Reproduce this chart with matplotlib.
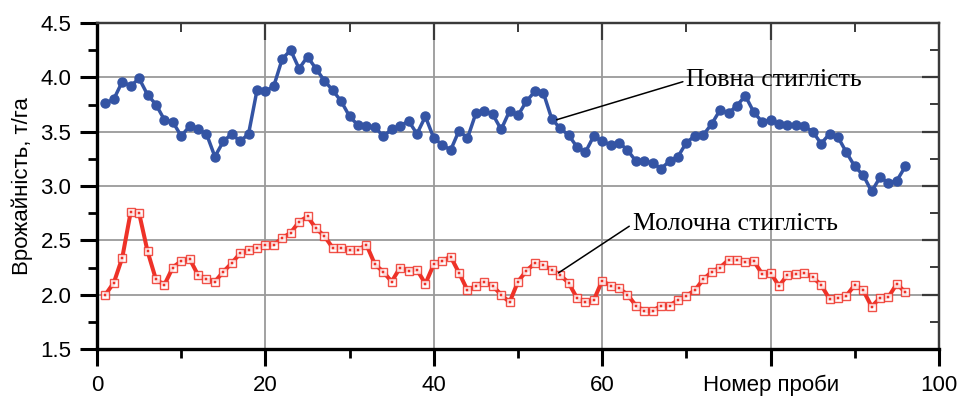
import matplotlib
matplotlib.use("Agg")
import matplotlib.pyplot as plt
import numpy as np

sample = list(range(1, 97))
full_ripeness = [3.76, 3.80, 3.96, 3.92, 3.99, 3.84, 3.75, 3.61, 3.59, 3.46,
                 3.55, 3.52, 3.48, 3.27, 3.41, 3.48, 3.41, 3.48, 3.88, 3.87,
                 3.92, 4.17, 4.25, 4.08, 4.19, 4.08, 3.97, 3.88, 3.78, 3.64,
                 3.56, 3.55, 3.54, 3.46, 3.52, 3.55, 3.60, 3.48, 3.64, 3.44,
                 3.38, 3.33, 3.51, 3.44, 3.67, 3.69, 3.66, 3.52, 3.69, 3.65,
                 3.78, 3.87, 3.86, 3.62, 3.53, 3.47, 3.36, 3.31, 3.46, 3.41,
                 3.38, 3.40, 3.33, 3.23, 3.23, 3.21, 3.16, 3.23, 3.27, 3.40,
                 3.46, 3.47, 3.57, 3.70, 3.67, 3.74, 3.83, 3.68, 3.59, 3.61,
                 3.57, 3.56, 3.56, 3.55, 3.50, 3.39, 3.48, 3.45, 3.31, 3.18,
                 3.10, 2.95, 3.08, 3.03, 3.05, 3.18]
milk_ripeness = [2.00, 2.11, 2.34, 2.76, 2.75, 2.40, 2.14, 2.09, 2.25, 2.31,
                 2.33, 2.18, 2.14, 2.12, 2.21, 2.29, 2.38, 2.41, 2.43, 2.46,
                 2.46, 2.52, 2.57, 2.67, 2.72, 2.61, 2.54, 2.43, 2.43, 2.41,
                 2.41, 2.46, 2.28, 2.21, 2.12, 2.25, 2.22, 2.23, 2.10, 2.28,
                 2.31, 2.35, 2.20, 2.04, 2.08, 2.12, 2.08, 2.00, 1.93, 2.12,
                 2.22, 2.29, 2.27, 2.23, 2.18, 2.11, 1.97, 1.93, 1.95, 2.13,
                 2.08, 2.06, 2.00, 1.90, 1.85, 1.85, 1.90, 1.90, 1.95, 1.99,
                 2.04, 2.14, 2.21, 2.25, 2.32, 2.32, 2.30, 2.31, 2.19, 2.20,
                 2.08, 2.18, 2.19, 2.20, 2.16, 2.09, 1.96, 1.97, 1.99, 2.09,
                 2.04, 1.89, 1.97, 1.98, 2.10, 2.02]

x_ticks = [0, 20, 40, 60, 80, 100]
x_tick_labels = ["0", "20", "40", "60", "Номер проби", "100"]
y_ticks = [1.5, 2.0, 2.5, 3.0, 3.5, 4.0, 4.5]
y_tick_labels = ["1.5", "2.0", "2.5", "3.0", "3.5", "4.0", "4.5"]
y_label = "Врожайність, т/га"
label_full = "Повна стиглість"
label_milk = "Молочна стиглість"

BLUE = "#3454A4"
RED = "#EE3228"
GRID = "#9a9a9a"
DARK = "#3a3a3a"

sans = ["Liberation Sans", "DejaVu Sans"]
serif = ["Liberation Serif", "DejaVu Serif"]

fig = plt.figure(figsize=(9.57, 3.96), dpi=100)
ax = fig.add_axes([97/957, 1-349/396, (939-97)/957, (349-23)/396])

ax.set_xlim(0, 100)
ax.set_ylim(1.5, 4.5)

# grid
for gx in [20, 40, 60, 80]:
    ax.axvline(gx, color=GRID, lw=1.3, zorder=0)
for gy in [2.0, 2.5, 3.0, 3.5, 4.0]:
    ax.axhline(gy, color=GRID, lw=1.3, zorder=0)

# series
ax.plot(sample, full_ripeness, color=BLUE, lw=2.5, marker="o", ms=6.5,
        mfc=BLUE, mec=BLUE, zorder=3)
ax.plot(sample, milk_ripeness, color=RED, lw=2.9, zorder=3)
ax.plot(sample, milk_ripeness, ls="none", marker="s", ms=6.0, mfc="white",
        mec=RED, mew=1.0, alpha=0.85, zorder=4)
ax.plot(sample, milk_ripeness, ls="none", marker="s", ms=1.6, mfc=RED,
        mec=RED, mew=0.3, zorder=5)

# ticks
ax.set_xticks(x_ticks)
ax.set_xticklabels(x_tick_labels, family=sans, fontsize=16)
ax.set_xticks([10, 30, 50, 70, 90], minor=True)
ax.set_yticks(y_ticks)
ax.set_yticklabels(y_tick_labels, family=sans, fontsize=16)
ax.set_yticks([1.75, 2.25, 2.75, 3.25, 3.75, 4.25], minor=True)
ax.tick_params(which="major", direction="out", length=12.5, width=2.2,
               color="black", pad=6)
ax.tick_params(which="minor", direction="out", length=6.5, width=2.0,
               color="black")

for side in ["left", "bottom"]:
    ax.spines[side].set_linewidth(2.4)
    ax.spines[side].set_color("black")
for side in ["top", "right"]:
    ax.spines[side].set_linewidth(1.6)
    ax.spines[side].set_color(DARK)

# inward ticks on top and right
top = ax.secondary_xaxis("top")
top.set_xticks(x_ticks[1:-1])
top.set_xticks([10, 30, 50, 70, 90], minor=True)
top.tick_params(which="major", direction="in", length=12.5, width=1.6,
                color=DARK, labeltop=False)
top.tick_params(which="minor", direction="in", length=6.5, width=1.4,
                color=DARK)
top.spines["top"].set_linewidth(1.6)
top.spines["top"].set_color(DARK)
right = ax.secondary_yaxis("right")
right.set_yticks(y_ticks[1:-1])
right.set_yticks([1.75, 2.25, 2.75, 3.25, 3.75, 4.25], minor=True)
right.tick_params(which="major", direction="in", length=12.5, width=1.6,
                  color=DARK, labelright=False)
right.tick_params(which="minor", direction="in", length=6.5, width=1.4,
                  color=DARK)
right.spines["right"].set_linewidth(1.6)
right.spines["right"].set_color(DARK)

ax.set_ylabel(y_label, family=sans, fontsize=16)
ax.yaxis.set_label_coords(-0.076, 0.5)

# annotations
ax.annotate(label_full, xy=(54.6, 3.61), xytext=(70.0, 3.98),
            family=serif, fontsize=18.5, ha="left", va="center",
            arrowprops=dict(arrowstyle="-", color="black", lw=1.1,
                            shrinkA=0, shrinkB=0, relpos=(-0.02, 0.4)),
            zorder=6)
ax.annotate(label_milk, xy=(54.8, 2.2), xytext=(63.7, 2.65),
            family=serif, fontsize=18.5, ha="left", va="center",
            arrowprops=dict(arrowstyle="-", color="black", lw=1.1,
                            shrinkA=0, shrinkB=0, relpos=(-0.02, 0.4)),
            zorder=6)

fig.savefig("out.png", dpi=100)
